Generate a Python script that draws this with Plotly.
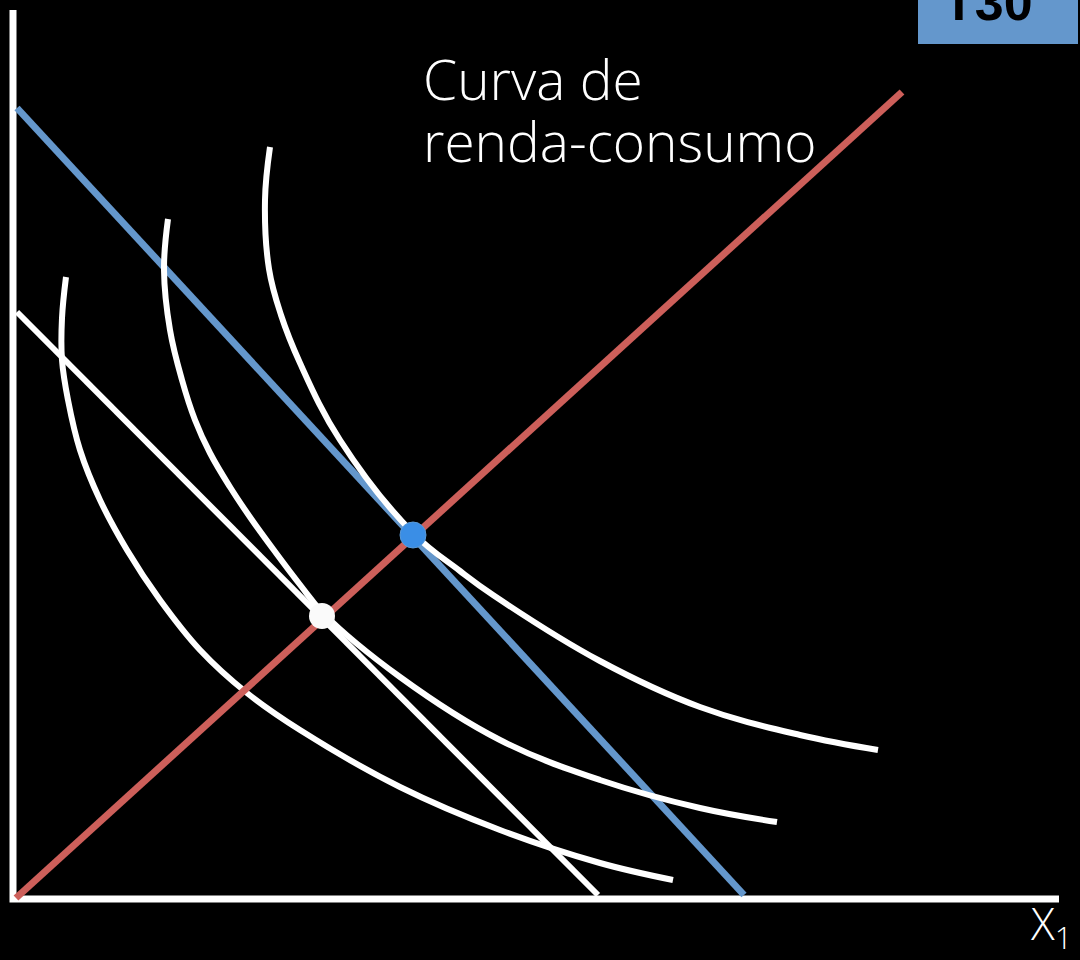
import plotly.graph_objects as go

# indifference curves (x1, x2)
curve_a_x = [53, 49, 49, 55, 67, 87, 114, 147, 187, 234, 287, 387, 487, 587, 660]
curve_a_y = [622, 581, 539, 499, 449, 399, 349, 299, 249, 206, 169, 112, 69, 36, 19]

curve_b_x = [155, 151, 157, 169, 182, 197, 217, 239, 263, 288, 310, 387, 487, 587, 687, 764]
curve_b_y = [680, 629, 569, 519, 479, 446, 412, 379, 346, 313, 286, 222, 159, 119, 91, 77]

curve_c_x = [257, 252, 256, 268, 287, 327, 400, 447, 480, 587, 687, 787, 865]
curve_c_y = [752, 699, 630, 584, 536, 459, 366, 328, 304, 238, 192, 164, 149]

# budget lines and income-consumption path
budget_low_x = [4, 585]
budget_low_y = [587, 4]
budget_high_x = [4, 731]
budget_high_y = [791, 4]
path_x = [3, 889]
path_y = [1, 807]

# optimal bundles
opt_low = (309, 283)
opt_high = (400, 364)

axis_x = [0, 0, 1046]
axis_y = [889, 0, 0]

WHITE = "#ffffff"
BLUE = "#6497cc"
RED = "#cd5f5a"

fig = go.Figure()

fig.add_trace(go.Scatter(x=axis_x, y=axis_y, mode="lines",
                         line=dict(color=WHITE, width=7)))
fig.add_trace(go.Scatter(x=budget_low_x, y=budget_low_y, mode="lines",
                         line=dict(color=WHITE, width=6)))
fig.add_trace(go.Scatter(x=budget_high_x, y=budget_high_y, mode="lines",
                         line=dict(color=BLUE, width=7)))
for cx, cy in [(curve_a_x, curve_a_y), (curve_b_x, curve_b_y), (curve_c_x, curve_c_y)]:
    fig.add_trace(go.Scatter(x=cx, y=cy, mode="lines",
                             line=dict(color=WHITE, width=6, shape="spline", smoothing=1.1)))
fig.add_trace(go.Scatter(x=path_x, y=path_y, mode="lines",
                         line=dict(color=RED, width=7)))
fig.add_trace(go.Scatter(x=[opt_low[0]], y=[opt_low[1]], mode="markers",
                         marker=dict(color="#fafafa", size=26, line=dict(width=0))))
fig.add_trace(go.Scatter(x=[opt_high[0]], y=[opt_high[1]], mode="markers",
                         marker=dict(color="#3a8ee6", size=26, line=dict(width=1, color="#5a9ad8"))))

# label
label_font = dict(family="Open Sans", size=55, color=WHITE, weight=300)
fig.add_annotation(x=408, y=821, text="Curva de", showarrow=False,
                   xanchor="left", yanchor="middle", font=label_font)
fig.add_annotation(x=408, y=759, text="renda-consumo", showarrow=False,
                   xanchor="left", yanchor="middle", font=label_font)

# slide tag in the corner
fig.add_shape(type="rect", x0=905, x1=1065, y0=855, y1=910,
              fillcolor=BLUE, line=dict(width=0), layer="above")
fig.add_annotation(x=975, y=866, text="<b>T30</b>", showarrow=False,
                   xanchor="center", yanchor="bottom",
                   font=dict(family="Liberation Sans", size=52, color="#000000"))

# axis name
fig.add_annotation(x=1015, y=-26, text="X<sub>1</sub>", showarrow=False,
                   xanchor="left", yanchor="middle",
                   font=dict(family="Open Sans", size=44, color=WHITE, weight=300))

fig.update_layout(
    width=1080, height=960,
    margin=dict(l=0, r=0, t=0, b=0),
    paper_bgcolor="#000000", plot_bgcolor="#000000",
    showlegend=False,
    xaxis=dict(range=[-13, 1067], visible=False, fixedrange=True),
    yaxis=dict(range=[-61, 899], visible=False, fixedrange=True),
)

fig.write_html("out.html", config={"displayModeBar": False},
               post_script="document.body.style.margin='0';document.body.style.background='black';")
